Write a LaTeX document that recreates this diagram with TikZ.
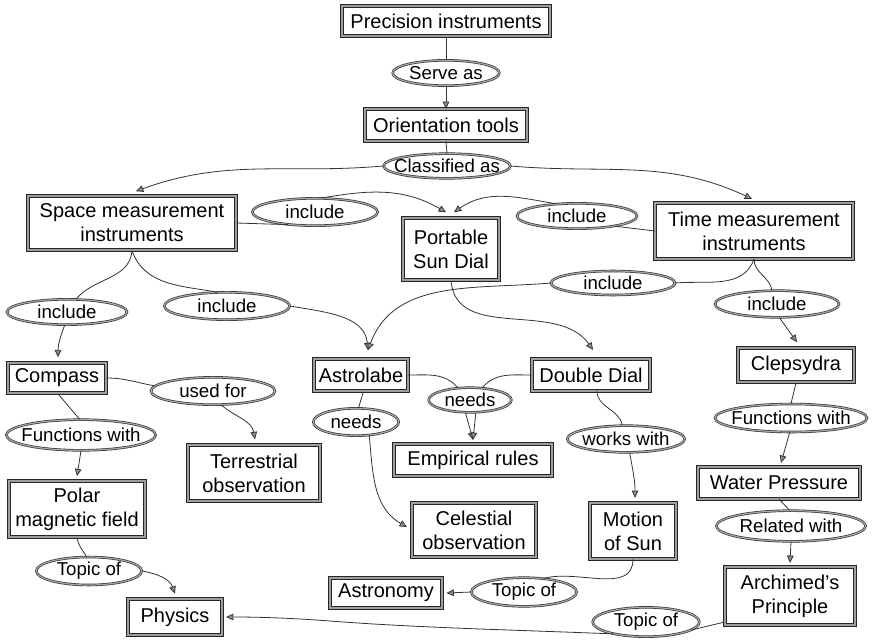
\documentclass[tikz,border=0pt]{standalone}
\usepackage{fontspec}
\setmainfont{Liberation Sans}
\usetikzlibrary{shapes.geometric,arrows.meta,calc}
\newcommand\lnk[1]{\makebox[0pt]{#1}}
\tikzset{
  box/.style={rectangle, draw=black!85, line width=0.7pt, double=black!38, double distance=1.4pt,
              inner sep=0pt, align=center, font=\fontsize{15}{18}\selectfont, fill=white},
  link/.style={ellipse, draw=black!80, line width=0.5pt, double=black!35, double distance=0.9pt,
               inner sep=0pt, font=\fontsize{14}{17}\selectfont, fill=white},
  conn/.style={draw=black!80, line width=0.6pt},
  arr/.style={conn, -{Triangle[length=5.5pt,width=5pt,fill=black!45]}},
}
\begin{document}
\begin{tikzpicture}[x=0.75pt,y=-0.75pt]
\useasboundingbox (0,0) rectangle (873,642);
% concepts
\node[box, minimum width=156pt, minimum height=23pt] (prec) at (446,21) {Precision instruments};
\node[box, minimum width=121pt, minimum height=23.5pt] (orient) at (446,125) {Orientation tools};
\node[box, minimum width=156pt, minimum height=41pt] (space) at (132,223) {Space measurement\\instruments};
\node[box, minimum width=71.5pt, minimum height=47pt] (sundial) at (451,249) {Portable\\Sun Dial};
\node[box, minimum width=148pt, minimum height=41.5pt] (time) at (754,231) {Time measurement\\instruments};
\node[box, minimum width=73.5pt, minimum height=23pt] (compass) at (57,378) {Compass};
\node[box, minimum width=70pt, minimum height=24.5pt] (astro) at (361,375) {Astrolabe};
\node[box, minimum width=88pt, minimum height=23.5pt] (ddial) at (591,375) {Double Dial};
\node[box, minimum width=86.5pt, minimum height=26pt] (clep) at (796,365) {Clepsydra};
\node[box, minimum width=99pt, minimum height=42.5pt] (terr) at (254,473) {Terrestrial\\observation};
\node[box, minimum width=118pt, minimum height=23.5pt] (emp) at (473,460) {Empirical rules};
\node[box, minimum width=102pt, minimum height=42.5pt] (polar) at (77,509) {Polar\\magnetic field};
\node[box, minimum width=121pt, minimum height=23.5pt] (water) at (779,483) {Water Pressure};
\node[box, minimum width=92.5pt, minimum height=41pt] (cel) at (474,530) {Celestial\\observation};
\node[box, minimum width=64pt, minimum height=41.5pt] (motion) at (633,531) {Motion\\of Sun};
\node[box, minimum width=84pt, minimum height=22pt] (astron) at (386,593) {Astronomy};
\node[box, minimum width=98pt, minimum height=43pt] (arch) at (790,596) {Archimed's\\Principle};
\node[box, minimum width=70pt, minimum height=27pt] (phys) at (175,617) {Physics};
% linking phrases
\node[link, minimum width=80pt, minimum height=19pt] (serve) at (446,73) {\lnk{Serve as}};
\node[link, minimum width=95pt, minimum height=18.5pt] (class) at (447,166) {\lnk{Classified as}};
\node[link, minimum width=94pt, minimum height=20.5pt] (inc1) at (315,212) {\lnk{include}};
\node[link, minimum width=90pt, minimum height=19pt] (inc2) at (577,216) {\lnk{include}};
\node[link, minimum width=90pt, minimum height=19pt] (inc3) at (67,312) {\lnk{include}};
\node[link, minimum width=94pt, minimum height=20.5pt] (inc4) at (227,306) {\lnk{include}};
\node[link, minimum width=93pt, minimum height=18pt] (inc5) at (613,283) {\lnk{include}};
\node[link, minimum width=93pt, minimum height=20pt] (inc6) at (777,304) {\lnk{include}};
\node[link, minimum width=93pt, minimum height=20.5pt] (used) at (213,391) {\lnk{used for}};
\node[link, minimum width=64pt, minimum height=20.5pt] (needsA) at (356,422) {\lnk{needs}};
\node[link, minimum width=62pt, minimum height=18.5pt] (needsB) at (470,400) {\lnk{needs}};
\node[link, minimum width=112pt, minimum height=23pt] (funcL) at (81,435) {\lnk{Functions with}};
\node[link, minimum width=88pt, minimum height=20pt] (works) at (626,439) {\lnk{works with}};
\node[link, minimum width=114pt, minimum height=21pt] (funcR) at (791,418) {\lnk{Functions with}};
\node[link, minimum width=112pt, minimum height=23pt] (rel) at (791,526) {\lnk{Related with}};
\node[link, minimum width=79pt, minimum height=21pt] (topicL) at (89,571) {\lnk{Topic of}};
\node[link, minimum width=79pt, minimum height=21.5pt] (topicM) at (524,592) {\lnk{Topic of}};
\node[link, minimum width=80pt, minimum height=22pt] (topicR) at (646,622) {\lnk{Topic of}};
% connectors
\draw[conn] (prec.south) -- (serve.north);
\draw[arr] (serve.south) -- (orient.north);
\draw[conn] (orient.south) -- (class.north);
\draw[arr] (class.west) to[out=185,in=20] ($(space.north)+(4,-4)$);
\draw[arr] (class.east) to[out=-5,in=155] ($(time.north)+(-2,-4)$);
\draw[conn] (space.east) -- (inc1.205);
\draw[arr] (inc1.65) to[out=10,in=150] ($(sundial.north)+(-5,-5)$);
\draw[arr] (inc2.150) to[out=170,in=35] ($(sundial.north)+(3,-5)$);
\draw[conn] (time.west) -- (inc2.-15);
\draw[conn] (space.south) to[out=-95,in=50] (inc3.55);
\draw[arr] (inc3.-100) to[out=-110,in=90] ($(compass.north)+(1,-5)$);
\draw[conn] (space.south) to[out=-70,in=170] (inc4.125);
\draw[arr] (inc4.east) to[out=-10,in=95] ($(astro.north)+(7,-8)$);
\draw[arr] (sundial.south) to[out=-85,in=125] ($(ddial.north)+(2,-9)$);
\draw[conn] (time.south) to[out=-110,in=5] (inc5.east);
\draw[arr] (inc5.west) to[out=185,in=70] ($(astro.north)+(7,-8)$);
\draw[conn] (time.south) to[out=-90,in=100] (inc6.110);
\draw[arr] (inc6.-80) -- ($(clep.north)+(1,-5)$);
\draw[conn] (compass.east) to[out=0,in=170] (used.175);
\draw[arr] (used.-60) to[out=-40,in=100] ($(terr.north)+(1,-5)$);
\draw[conn] ($(compass.south)+(1,0)$) -- (funcL.95);
\draw[arr] (funcL.-90) -- ($(polar.north)+(0,-4)$);
\draw[conn] (polar.south) to[out=-80,in=120] (topicL.100);
\draw[arr] (topicL.east) to[out=-10,in=110] ($(phys.north)+(0,-5)$);
\draw[conn] (astro.-82) -- (needsA.80);
\draw[arr] (needsA.-45) to[out=-85,in=150] ($(cel.west)+(-5,-3)$);
\draw[conn] (astro.east) to[out=0,in=130] (needsB.135);
\draw[conn] (ddial.west) to[out=180,in=50] (needsB.45);
\draw[arr] (needsB.-110) -- ($(emp.north)+(0,-4)$);
\draw[arr] (needsB.-65) -- ($(emp.north)+(0,-4)$);
\draw[conn] ($(ddial.south)+(6,0)$) to[out=-90,in=100] (works.105);
\draw[arr] (works.-75) to[out=-80,in=90] ($(motion.north)+(2,-5)$);
\draw[conn] (motion.south) to[out=-90,in=15] (topicM.35);
\draw[arr] (topicM.west) -- ($(astron.east)+(4,0)$);
\draw[conn] (clep.south) -- (funcR.90);
\draw[arr] (funcR.-95) -- ($(water.north)+(2,-4)$);
\draw[conn] (water.south) -- (rel.95);
\draw[arr] (rel.-90) -- ($(arch.north)+(0,-4)$);
\draw[conn] ($(arch.south west)+(0,-3)$) -- (topicR.-10);
\draw[arr] (topicR.200) .. controls (520,630) and (420,628) .. (330,621)
   .. controls (290,618) and (260,617) .. ($(phys.east)+(4,0)$);
\end{tikzpicture}
\end{document}
